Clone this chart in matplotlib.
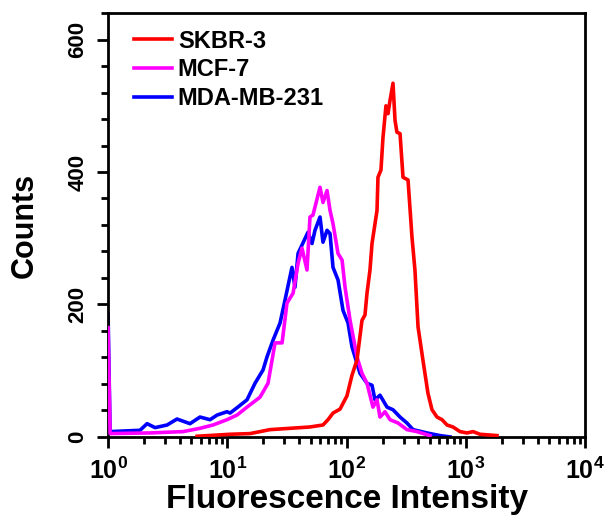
import numpy as np
import matplotlib
matplotlib.use("Agg")
import matplotlib.pyplot as plt
from matplotlib.ticker import LogLocator, NullFormatter, MultipleLocator

plt.rcParams['font.family'] = ['Liberation Sans', 'DejaVu Sans']
plt.rcParams['font.weight'] = 'bold'
plt.rcParams['mathtext.fontset'] = 'custom'
plt.rcParams['mathtext.rm'] = 'Liberation Sans:bold'
plt.rcParams['mathtext.bf'] = 'Liberation Sans:bold'
plt.rcParams['mathtext.it'] = 'Liberation Sans:bold'

# log10 of fluorescence intensity, counts
skbr_logx = [0.746, 1.023, 1.190, 1.358, 1.526, 1.693, 1.802, 1.844, 1.886, 1.945,
             2.003, 2.045, 2.087, 2.129, 2.154, 2.171, 2.196, 2.213, 2.255, 2.263,
             2.288, 2.305, 2.330, 2.347, 2.364, 2.389, 2.406, 2.422, 2.448, 2.473,
             2.515, 2.548, 2.573, 2.599, 2.640, 2.682, 2.716, 2.758, 2.800, 2.842,
             2.892, 2.951, 3.009, 3.060, 3.118, 3.261]
skbr_counts = [1, 4, 5, 11, 13, 15, 18, 26, 36, 42,
               62, 93, 116, 176, 184, 217, 252, 292, 342, 392,
               403, 452, 500, 488, 508, 534, 478, 460, 458, 392,
               388, 302, 252, 166, 116, 66, 41, 30, 26, 18,
               15, 8, 6, 8, 4, 2]

mcf_logx = [0.0, 0.017, 0.352, 0.629, 0.771, 0.880, 0.997, 1.081, 1.165, 1.274,
            1.341, 1.400, 1.459, 1.500, 1.551, 1.593, 1.626, 1.668, 1.693, 1.718,
            1.777, 1.802, 1.836, 1.861, 1.886, 1.928, 1.962, 1.987, 2.029, 2.087,
            2.129, 2.171, 2.221, 2.255, 2.280, 2.322, 2.364, 2.431, 2.506, 2.590,
            2.699]
mcf_counts = [165, 5, 6, 8, 13, 18, 26, 33, 45, 60,
              81, 142, 142, 202, 217, 262, 285, 252, 332, 335,
              377, 354, 372, 342, 322, 277, 267, 226, 176, 121,
              96, 81, 45, 56, 30, 38, 26, 21, 11, 8,
              2]

mda_logx = [0.0, 0.017, 0.14, 0.268, 0.327, 0.394, 0.495, 0.578, 0.687, 0.771,
            0.855, 0.914, 0.997, 1.023, 1.081, 1.165, 1.232, 1.299, 1.333, 1.383,
            1.442, 1.484, 1.542, 1.567, 1.593, 1.676, 1.710, 1.735, 1.777, 1.802,
            1.836, 1.861, 1.886, 1.928, 1.970, 2.012, 2.045, 2.087, 2.112, 2.171,
            2.213, 2.238, 2.280, 2.339, 2.389, 2.448, 2.506, 2.557, 2.674, 2.783,
            2.867]
mda_counts = [185, 8, 9, 10, 20, 14, 18, 27, 20, 30,
              26, 33, 38, 36, 44, 56, 81, 101, 121, 146,
              172, 207, 256, 226, 277, 309, 292, 312, 332, 294,
              312, 307, 256, 237, 191, 172, 136, 111, 96, 81,
              78, 56, 63, 45, 41, 30, 21, 11, 6, 2,
              0]

fig = plt.figure(figsize=(6.14, 5.22), dpi=100)
ax = fig.add_axes([0.176, 0.163, 0.777, 0.812])

l3, = ax.plot(10 ** np.array(mda_logx), mda_counts, color='#0000ff', lw=2.6, zorder=2)
l2, = ax.plot(10 ** np.array(mcf_logx), mcf_counts, color='#ff00ff', lw=2.6, zorder=3)
l1, = ax.plot(10 ** np.array(skbr_logx), skbr_counts, color='#ff0000', lw=2.6, zorder=4)

ax.set_xscale('log')
ax.set_xlim(1, 1e4)
ax.set_ylim(0, 640)

ax.set_xticks([1, 10, 100, 1000, 10000])
ax.set_xticklabels([r'$10^{0}$', r'$10^{1}$', r'$10^{2}$', r'$10^{3}$', r'$10^{4}$'])
ax.xaxis.set_minor_locator(LogLocator(base=10, subs=np.arange(2, 10), numticks=20))
ax.xaxis.set_minor_formatter(NullFormatter())

ax.set_yticks([0, 200, 400, 600])
ax.yaxis.set_minor_locator(MultipleLocator(40))
for t in ax.get_yticklabels():
    t.set_rotation(90)
    t.set_va('center')

ax.tick_params(axis='both', which='major', direction='out', length=8, width=2,
               labelsize=18)
ax.tick_params(axis='both', which='minor', direction='out', length=5, width=2)
ax.tick_params(axis='x', pad=7)
ax.tick_params(axis='y', labelsize=16, pad=6)

for s in ax.spines.values():
    s.set_linewidth(2)

ax.set_xlabel('Fluorescence Intensity', fontsize=24, fontweight='bold', labelpad=0)
ax.set_ylabel('Counts', fontsize=22, fontweight='bold', labelpad=20)

ax.legend([l1, l2, l3], ['SKBR-3', 'MCF-7', 'MDA-MB-231'], loc='upper left',
          frameon=False, fontsize=17, handlelength=1.6, handletextpad=0.25,
          labelspacing=0.25, borderaxespad=0.3, bbox_to_anchor=(0.02, 1.0))

fig.savefig('out.png', dpi=100)
